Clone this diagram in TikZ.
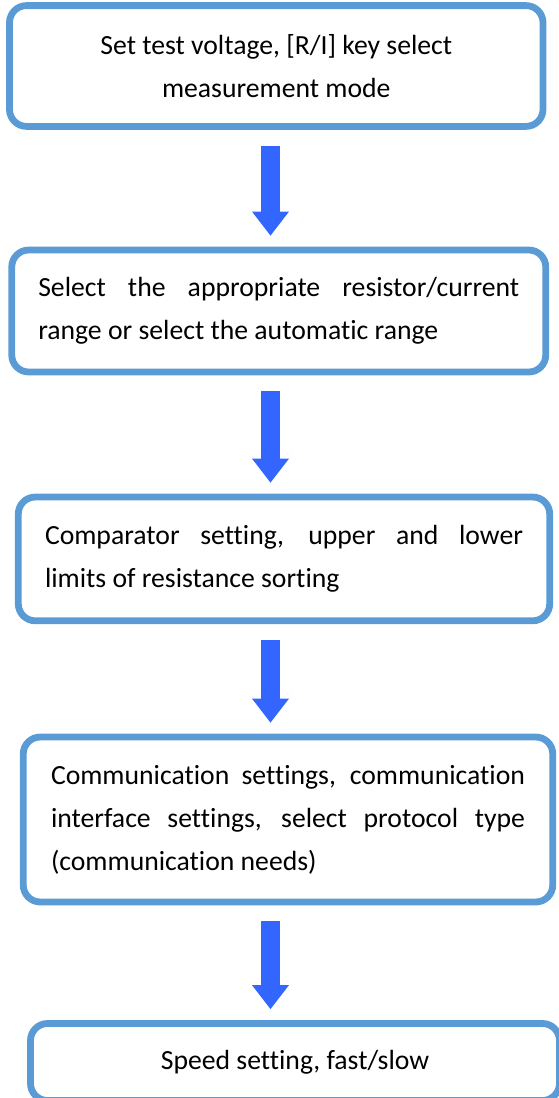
\documentclass[tikz,border=0pt]{standalone}
\usepackage{fontspec}
\setmainfont[Ligatures=NoCommon]{Carlito}
\usepackage{xcolor}
\definecolor{boxblue}{RGB}{91,155,213}
\definecolor{arrowblue}{RGB}{51,102,255}
\usetikzlibrary{arrows.meta,positioning}

\begin{document}
\begin{tikzpicture}[x=1pt,y=-1pt,
  stepbox/.style={
    rectangle, rounded corners=17pt,
    draw=boxblue, line width=6.8pt,
    fill=white,
    font=\fontsize{27.7}{43}\selectfont,
    inner sep=0pt
  },
  fatarrow/.style={
    -{Triangle[length=24pt, width=37pt, line width=0pt]},
    line width=19pt, draw=arrowblue, fill=arrowblue,
    shorten <=16pt, shorten >=11pt
  }
]
\useasboundingbox (0,0) rectangle (558,1098);

\node[stepbox, minimum width=533.5pt, minimum height=120.8pt, align=center] (b1) at (276.25,66)
  {Set test voltage, [R/I] key select\\measurement mode};
\node[stepbox, minimum width=534pt, minimum height=122pt, text width=481pt, align=justify] (b2) at (278.75,311)
  {Select the appropriate resistor/current\linebreak range or select the automatic range};
\node[stepbox, minimum width=531.4pt, minimum height=123.8pt, text width=478pt, align=justify] (b3) at (284,558.9)
  {Comparator setting, upper and lower\linebreak limits of resistance sorting};
\node[stepbox, minimum width=529.5pt, minimum height=165pt, text width=474pt, align=justify] (b4) at (288,819.5)
  {Communication settings, communication\linebreak interface settings, select protocol type\linebreak (communication needs)};
\node[stepbox, minimum width=529pt, minimum height=77pt, align=center] (b5) at (295,1062)
  {Speed setting, fast/slow};

% arrows between the steps
\coordinate (ax) at (270.5,0);
\draw[fatarrow] (b1.south -| ax) -- (b2.north -| ax);
\draw[fatarrow] (b2.south -| ax) -- (b3.north -| ax);
\draw[fatarrow] (b3.south -| ax) -- (b4.north -| ax);
\draw[fatarrow] (b4.south -| ax) -- (b5.north -| ax);
\end{tikzpicture}
\end{document}
